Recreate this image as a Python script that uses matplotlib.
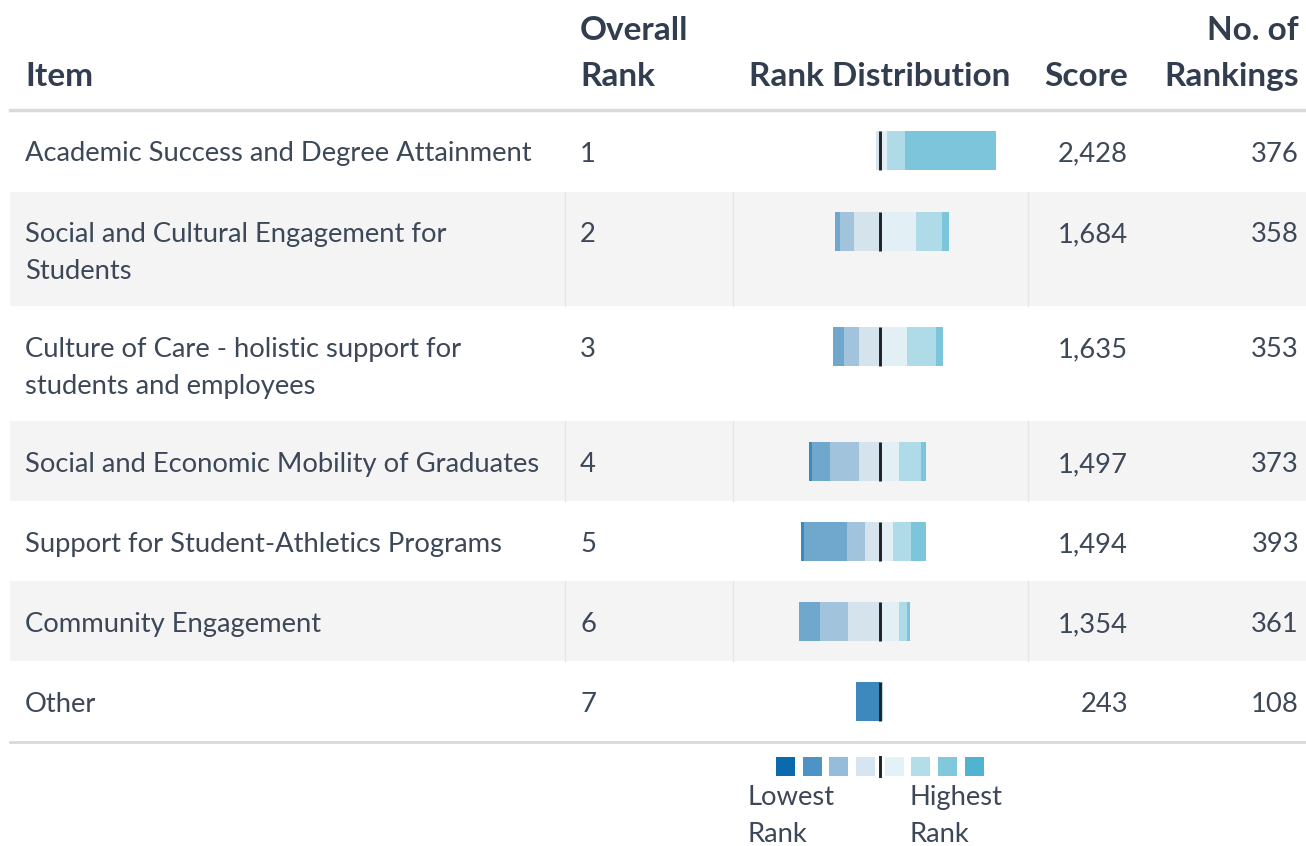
import numpy as np
import matplotlib.pyplot as plt
from matplotlib.patches import Rectangle

plt.rcParams['font.family'] = ['Lato', 'DejaVu Sans']

# table data
items = ["Academic Success and Degree Attainment",
         "Social and Cultural Engagement for\nStudents",
         "Culture of Care - holistic support for\nstudents and employees",
         "Social and Economic Mobility of Graduates",
         "Support for Student-Athletics Programs",
         "Community Engagement",
         "Other"]
overall_rank = [1, 2, 3, 4, 5, 6, 7]
scores = [2428, 1684, 1635, 1497, 1494, 1354, 243]
n_rankings = [376, 358, 353, 373, 393, 361, 108]

# rank distribution (counts per rank position), lowest rank on the left
rank7 = [0, 0, 0, 9, 9, 0, 74]
rank6 = [0, 16, 34, 56, 134, 66, 0]
rank5 = [0, 45, 46, 90, 56, 88, 0]
rank4 = [11, 79, 65, 65, 46, 99, 0]
rank3 = [23, 114, 86, 61, 42, 61, 0]
rank2 = [56, 81, 91, 69, 56, 25, 12]
rank1 = [285, 22, 22, 16, 47, 9, 0]

bar_cols = ['#3d89be', '#70a7cd', '#a2c3dc', '#d5e3ec', '#e2eff4', '#afdae7', '#7cc5db']
legend_cols = ['#0a6aad', '#4d93c5', '#95bddb', '#d6e5ef', '#e3f2f7', '#b3dde9', '#82c8dd', '#4fb3d1']

head_col = '#323e4f'
body_col = '#3c4858'

W, H = 1306, 846
fig = plt.figure(figsize=(W / 100, H / 100), dpi=100)
bg = fig.add_axes([0, 0, 1, 1])
bg.set_xlim(0, W)
bg.set_ylim(H, 0)
bg.axis('off')

# row layout (pixels)
row_top = [111, 192, 306, 421, 501, 581, 661]
row_bot = [192, 306, 421, 501, 581, 661, 741]
bar_y = [151, 231.5, 346.5, 461.5, 541.5, 621.5, 701.5]
line_gap = 37

for i in range(len(items)):
    if i % 2 == 1:
        bg.add_patch(Rectangle((10, row_top[i]), W - 10, row_bot[i] - row_top[i],
                               facecolor='#f4f4f4', edgecolor='none', zorder=0))
        for xs in [565, 733, 1028]:
            bg.plot([xs, xs], [row_top[i], row_bot[i]], color='#e6e6e6', lw=1, zorder=1)

# header
hs = 24
bg.text(25, 86, "Item", fontsize=hs, fontweight='bold', color=head_col, va='baseline')
bg.text(580, 40, "Overall", fontsize=hs, fontweight='bold', color=head_col, va='baseline')
bg.text(580, 86, "Rank", fontsize=hs, fontweight='bold', color=head_col, va='baseline')
bg.text(880, 86, "Rank Distribution", fontsize=hs, fontweight='bold', color=head_col,
        va='baseline', ha='center')
bg.text(1128, 86, "Score", fontsize=hs, fontweight='bold', color=head_col, va='baseline', ha='right')
bg.text(1299, 40, "No. of", fontsize=hs, fontweight='bold', color=head_col, va='baseline', ha='right')
bg.text(1299, 86, "Rankings", fontsize=hs, fontweight='bold', color=head_col, va='baseline', ha='right')

bg.plot([10, W], [110, 110], color='#dadada', lw=2.5, zorder=2)
bg.plot([10, W], [742, 742], color='#dadada', lw=2, zorder=2)

# body text
bs = 19.7
for i in range(len(items)):
    base = bar_y[i] + 10.5
    for k, ln in enumerate(items[i].split('\n')):
        bg.text(25, base + k * line_gap, ln, fontsize=bs, color=body_col, va='baseline')
    bg.text(580, base, str(overall_rank[i]), fontsize=bs, color=body_col, va='baseline')
    bg.text(1128, base, f"{scores[i]:,}", fontsize=bs, color=body_col, va='baseline', ha='right')
    bg.text(1299, base, str(n_rankings[i]), fontsize=bs, color=body_col, va='baseline', ha='right')

# bars: axes over the rank distribution column, x in counts, y in pixels
x0, x1, xc = 735, 1028, 879.5
per_px = 3.13
bx = fig.add_axes([x0 / W, 0, (x1 - x0) / W, 1])
bx.set_xlim(-(xc - x0) * per_px, (x1 - xc) * per_px)
bx.set_ylim(H, 0)
bx.axis('off')
bx.patch.set_alpha(0)

left_side = [rank4, rank5, rank6, rank7]
right_side = [rank3, rank2, rank1]
bh = 39
y = np.array(bar_y)
start = np.zeros(len(items))
for j, vals in enumerate(left_side):
    v = np.array(vals, float)
    bx.barh(y, -v, left=-start, height=bh, color=bar_cols[3 - j], linewidth=0)
    start += v
start = np.zeros(len(items))
for j, vals in enumerate(right_side):
    v = np.array(vals, float)
    bx.barh(y, v, left=start, height=bh, color=bar_cols[4 + j], linewidth=0)
    start += v
bx.vlines(np.zeros(len(items)), y - bh / 2, y + bh / 2, color='#1f2328', lw=2.1)

# legend
lx = [776, 803, 829, 856, 885, 911, 938, 965]
for c, xx in zip(legend_cols, lx):
    bg.add_patch(Rectangle((xx, 757), 19, 19, facecolor=c, edgecolor='none'))
bg.plot([879.5, 879.5], [757, 776], color='#1f2328', lw=2.1)
bg.text(748, 805, "Lowest", fontsize=bs, color=body_col, va='baseline')
bg.text(748, 842, "Rank", fontsize=bs, color=body_col, va='baseline')
bg.text(910, 805, "Highest", fontsize=bs, color=body_col, va='baseline')
bg.text(910, 842, "Rank", fontsize=bs, color=body_col, va='baseline')

fig.savefig('out.png', dpi=100)
